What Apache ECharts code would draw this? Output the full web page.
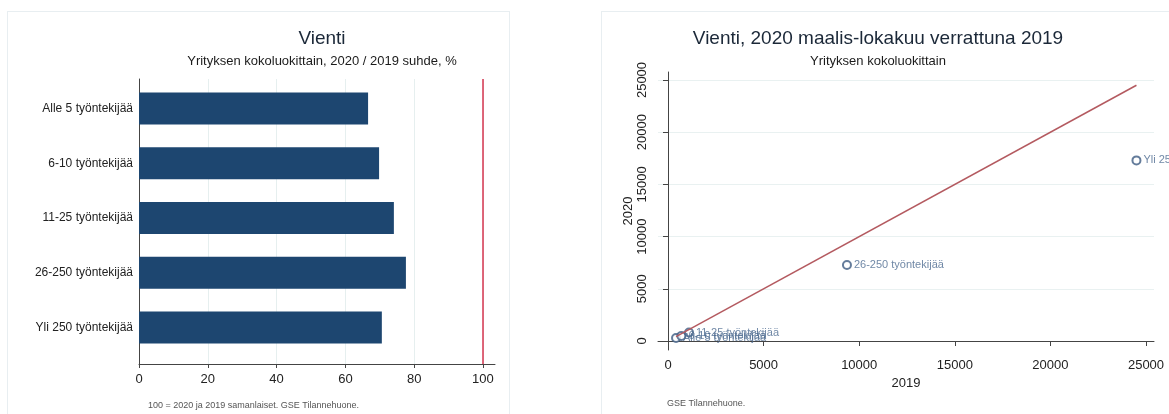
<!DOCTYPE html>
<html>
<head>
<meta charset="utf-8">
<script src="https://cdn.jsdelivr.net/npm/echarts@6/dist/echarts.min.js"></script>
<style>
  html, body { margin: 0; background: #fff; overflow: hidden; }
  .panel { position: absolute; top: 11px; height: 420px; border: 1px solid #e8eef1; }
  #chart { position: absolute; left: 0; top: 0; width: 1169px; height: 414px; }
</style>
</head>
<body>
<div class="panel" style="left:7px;width:501px"></div>
<div class="panel" style="left:601px;width:620px"></div>
<div id="chart"></div>
<script>
// kokoluokat, ylhäältä alas
const sizeClasses = ['Alle 5 työntekijää', '6-10 työntekijää', '11-25 työntekijää', '26-250 työntekijää', 'Yli 250 työntekijää']
// 2020 / 2019 suhde, %
const ratioPct = [66.6, 69.8, 74.1, 77.6, 70.6]
const ratioTicks = [0, 20, 40, 60, 80, 100]
// vienti maalis-lokakuu
const export2019 = [420, 700, 1100, 9360, 24500]
const export2020 = [280, 490, 815, 7280, 17300]
const scatterTicks = [0, 5000, 10000, 15000, 20000, 25000]

const font = 'Liberation Sans, Arial, sans-serif'
const lo = Math.min(...export2019)
const hi = Math.max(...export2019)
const plain = v => String(v)

const chart = echarts.init(document.getElementById('chart'))
chart.setOption({
  animation: false,
  textStyle: { fontFamily: font },
  title: [
    {
      text: 'Vienti',
      subtext: 'Yrityksen kokoluokittain, 2020 / 2019 suhde, %',
      left: 317, top: 24, textAlign: 'center', itemGap: 7,
      textStyle: { fontSize: 19, fontWeight: 'normal', color: '#1b2838', fontFamily: font },
      subtextStyle: { fontSize: 13, color: '#1b1b1b', fontFamily: font }
    },
    {
      text: 'Vienti, 2020 maalis-lokakuu verrattuna 2019',
      subtext: 'Yrityksen kokoluokittain',
      left: 873, top: 24, textAlign: 'center', itemGap: 7,
      textStyle: { fontSize: 19, fontWeight: 'normal', color: '#1b2838', fontFamily: font },
      subtextStyle: { fontSize: 13, color: '#1b1b1b', fontFamily: font }
    },
    {
      text: '100 = 2020 ja 2019 samanlaiset. GSE Tilannehuone.',
      left: 143, top: 396,
      textStyle: { fontSize: 9, fontWeight: 'normal', color: '#555', fontFamily: font }
    },
    {
      text: 'GSE Tilannehuone.',
      left: 662, top: 394,
      textStyle: { fontSize: 9, fontWeight: 'normal', color: '#555', fontFamily: font }
    }
  ],
  grid: [
    // palkit
    { left: 139, right: 674, top: 81, bottom: 59 },
    // vasemman kuvan akselit
    { left: 139, right: 674, top: 79, bottom: 50 },
    // hajontakuva
    { left: 658, right: 15, top: 72, bottom: 64 }
  ],
  xAxis: [
    { gridIndex: 0, type: 'value', min: 0, max: 103.5, show: false },
    {
      gridIndex: 1, type: 'value', min: 0, max: 103.5,
      axisLine: { show: true, lineStyle: { color: '#444' } },
      axisTick: { show: true, length: 4, customValues: ratioTicks, lineStyle: { color: '#444' } },
      axisLabel: { customValues: ratioTicks, fontSize: 13, color: '#222', margin: 9, formatter: plain },
      splitLine: { show: true, lineStyle: { color: '#e6efef' } }
    },
    {
      gridIndex: 2, type: 'value', min: -523, max: 25418,
      name: '2019', nameLocation: 'middle', nameGap: 23,
      nameTextStyle: { fontSize: 13, color: '#222' },
      axisLine: { show: true, lineStyle: { color: '#444' } },
      axisTick: { show: true, length: 5, customValues: scatterTicks, lineStyle: { color: '#444' } },
      axisLabel: { customValues: scatterTicks, fontSize: 13, color: '#222', margin: 9, formatter: plain },
      splitLine: { show: false }
    }
  ],
  yAxis: [
    {
      gridIndex: 0, type: 'category', inverse: true, data: sizeClasses,
      axisLine: { show: false }, axisTick: { show: false },
      axisLabel: { fontSize: 12, color: '#222', margin: 6 }
    },
    {
      gridIndex: 1, type: 'value', min: 0, max: 1,
      axisLine: { show: true, lineStyle: { color: '#444' } },
      axisTick: { show: false }, axisLabel: { show: false }, splitLine: { show: false }
    },
    {
      gridIndex: 2, type: 'value', min: -862, max: 25766,
      name: '2020', nameLocation: 'middle', nameGap: 23, nameRotate: 90,
      nameTextStyle: { fontSize: 13, color: '#222' },
      axisLine: { show: true, lineStyle: { color: '#444' } },
      axisTick: { show: true, length: 5, customValues: scatterTicks, lineStyle: { color: '#444' } },
      axisLabel: { customValues: scatterTicks, rotate: 90, fontSize: 13, color: '#222', margin: 9, formatter: plain },
      splitLine: { show: true, lineStyle: { color: '#e9f1f1' } }
    }
  ],
  series: [
    {
      type: 'bar', xAxisIndex: 0, yAxisIndex: 0,
      data: ratioPct, barWidth: 32,
      itemStyle: { color: '#1d4670' }
    },
    {
      type: 'line', xAxisIndex: 1, yAxisIndex: 1, data: [],
      markLine: {
        silent: true, symbol: 'none', label: { show: false },
        lineStyle: { color: '#d6354f', width: 1.5, type: 'solid' },
        data: [{ xAxis: 100 }]
      }
    },
    {
      type: 'line', xAxisIndex: 2, yAxisIndex: 2,
      data: [[lo, lo], [hi, hi]], symbol: 'none',
      lineStyle: { color: '#b45a60', width: 1.5 }
    },
    {
      type: 'scatter', xAxisIndex: 2, yAxisIndex: 2,
      data: sizeClasses.map((n, i) => ({ name: n, value: [export2019[i], export2020[i]] })),
      symbol: 'emptyCircle', symbolSize: 8,
      itemStyle: { color: '#3d5b82', borderWidth: 1.5 },
      label: { show: true, position: 'right', distance: 2, formatter: '{b}', fontSize: 11, color: '#4c6a90' }
    }
  ]
})
</script>
</body>
</html>
